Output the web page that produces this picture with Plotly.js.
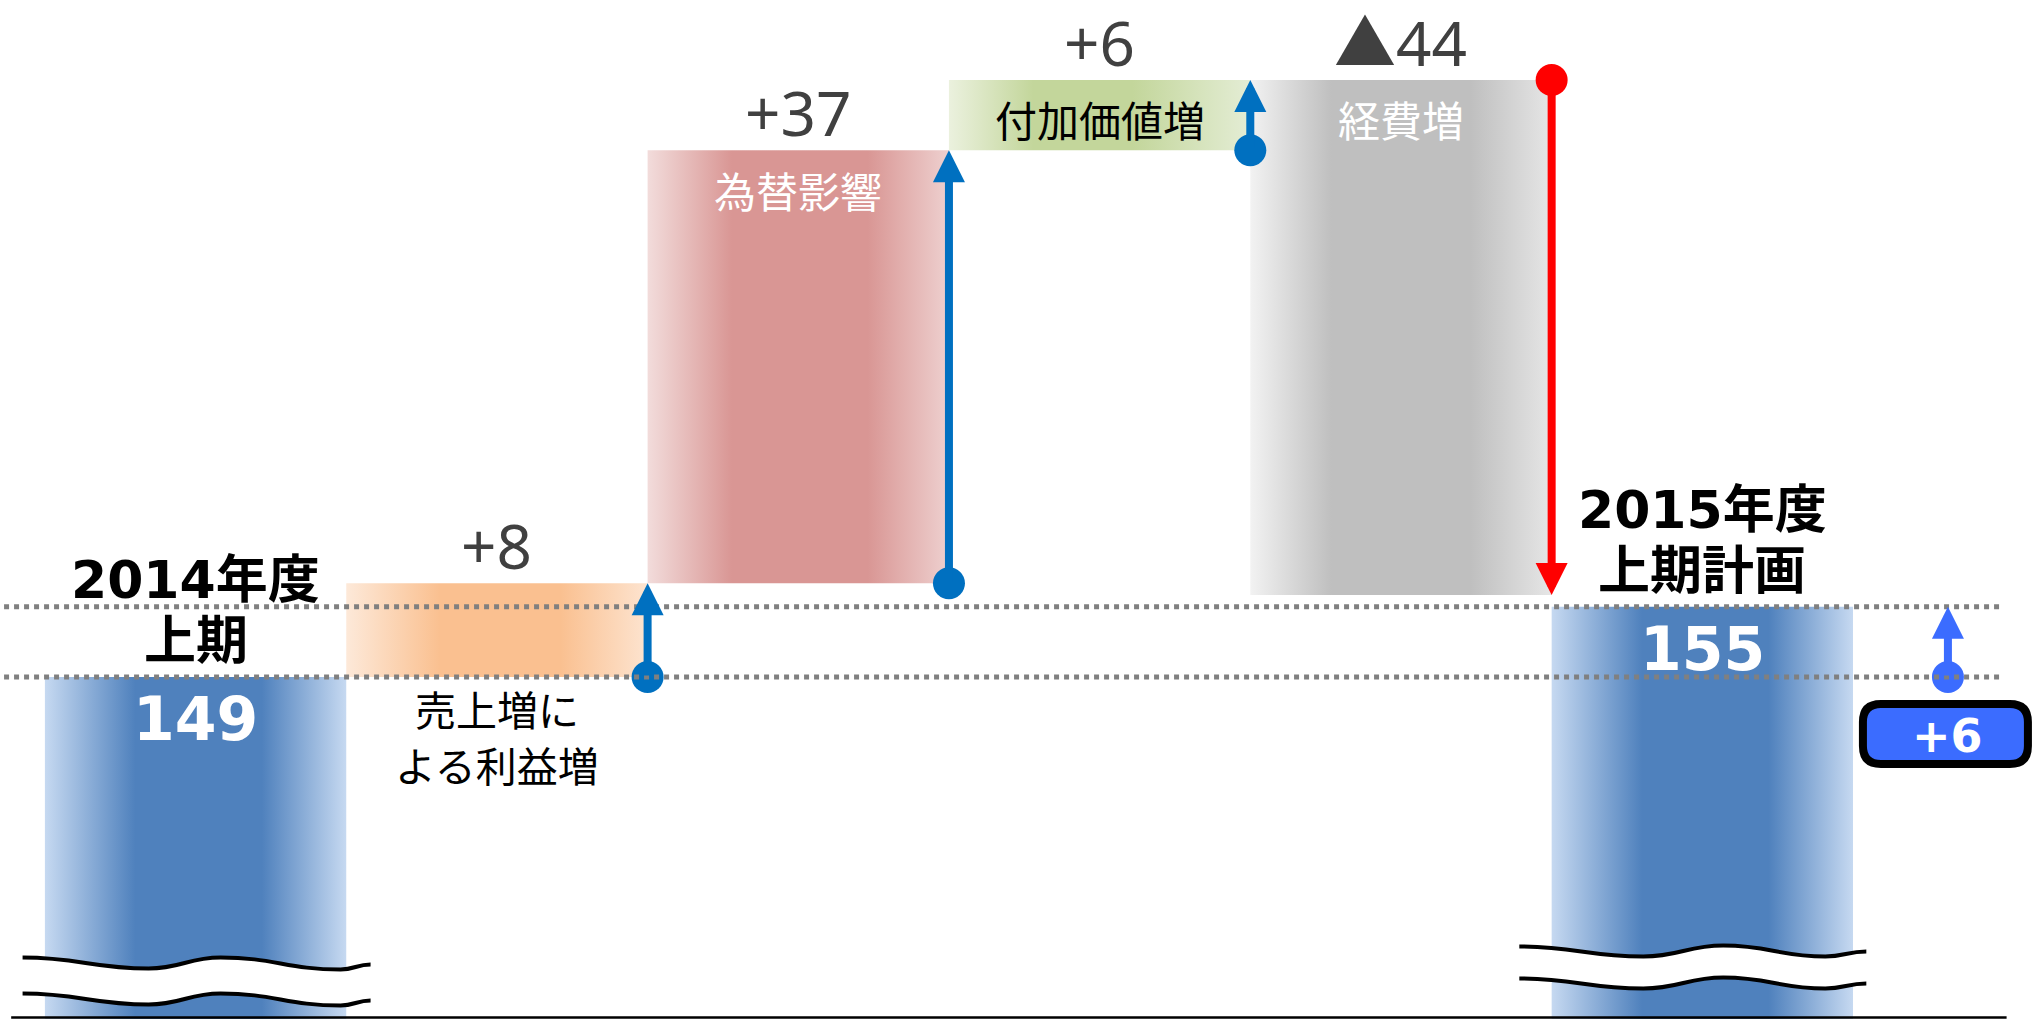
<!DOCTYPE html>
<html>
<head>
<meta charset="utf-8">
<script src="https://cdn.plot.ly/plotly-3.0.1.min.js"></script>
<style>
  html, body { margin: 0; padding: 0; background: #ffffff; }
  #chart { width: 2032px; height: 1019px; }
</style>
</head>
<body>
<div id="chart"></div>
<script>
// ---------------- data ----------------
const categories = ['2014年度上期', '売上増による利益増', '為替影響', '付加価値増', '経費増', '2015年度上期計画'];
const nameLines = [['2014年度', '上期'], ['売上増に', 'よる利益増'], ['為替影響'], ['付加価値増'], ['経費増'], ['2015年度', '上期計画']];
const startValue = 149;
const deltas = [8, 37, 6, -44];
const deltaLabels = ['+8', '+37', '+6', '▲44'];
const endValue = 155;
const totalChangeLabel = '+6';

// ---------------- styling ----------------
const W = 2032, H = 1019;
const xRange = [-0.649, 6.094];
const yRange = [119.78, 206.83];
const changeX = 5.815;              // horizontal slot of the overall-change marker

const gradients = [
  [[0, '#C6D9F1'], [0.3, '#4F81BD'], [0.72, '#4F81BD'], [1, '#C6D9F1']],
  [[0, '#FDE9D9'], [0.31, '#FAC090'], [0.71, '#FAC090'], [1, '#FDE4D0']],
  [[0, '#F2DCDB'], [0.28, '#D99694'], [0.73, '#D99694'], [1, '#EED0CF']],
  [[0, '#EBF1DE'], [0.28, '#C3D69B'], [0.61, '#C3D69B'], [1, '#E4EDD5']],
  [[0, '#F2F2F2'], [0.27, '#BFBFBF'], [0.73, '#BFBFBF'], [1, '#E6E6E6']],
  [[0, '#C6D9F1'], [0.3, '#4F81BD'], [0.72, '#4F81BD'], [1, '#C6D9F1']]
];
const nameColors = ['#000000', '#000000', '#FFFFFF', '#000000', '#FFFFFF', '#000000'];
const upColor = '#0070C0', downColor = '#FF0000', totalColor = '#3B6CFF';

const BOLD = 'DejaVu Sans, Noto Sans CJK JP, sans-serif';
const JP = 'Noto Sans CJK JP, sans-serif';
const NUM = 'Noto Sans, Noto Sans CJK JP, sans-serif';

// ---------------- geometry from data ----------------
const floor = yRange[0];
const segs = [];
segs.push({lo: floor, hi: startValue, from: floor, to: startValue});
let run = startValue;
deltas.forEach(d => {
  const from = run, to = run + d;
  segs.push({lo: Math.min(from, to), hi: Math.max(from, to), from, to});
  run = to;
});
segs.push({lo: floor, hi: endValue, from: floor, to: endValue});

const traces = [];
segs.forEach((s, i) => {
  const l = i - 0.5, r = i + 0.5;
  traces.push({
    type: 'scatter', mode: 'lines',
    x: [l, r, r, l, l], y: [s.lo, s.lo, s.hi, s.hi, s.lo],
    fill: 'toself',
    fillgradient: {type: 'horizontal', colorscale: gradients[i]},
    line: {width: 0, color: 'rgba(0,0,0,0)'},
    hoverinfo: 'skip', name: categories[i]
  });
});

// arrows: at right edge of each delta bar, plus the overall change marker
const arrows = [];
segs.forEach((s, i) => {
  if (i === 0 || i === segs.length - 1) return;
  arrows.push({x: i + 0.5, from: s.from, to: s.to, color: s.to > s.from ? upColor : downColor});
});
arrows.push({x: changeX, from: startValue, to: endValue, color: totalColor});

traces.push({
  type: 'scatter', mode: 'markers',
  x: arrows.map(a => a.x), y: arrows.map(a => a.from),
  marker: {size: 32, color: arrows.map(a => a.color), line: {width: 0}},
  hoverinfo: 'skip'
});

const annotations = [];
arrows.forEach(a => {
  annotations.push({
    x: a.x, y: a.to, ax: a.x, ay: a.from,
    xref: 'x', yref: 'y', axref: 'x', ayref: 'y',
    showarrow: true, arrowhead: 2, arrowsize: 0.8, arrowwidth: 8,
    arrowcolor: a.color, text: '', standoff: 0
  });
});

function label(x, y, text, shift, font, color, size, weight) {
  annotations.push({
    x: x, y: y, xref: 'x', yref: 'y', text: text, showarrow: false,
    yshift: shift, xanchor: 'center', yanchor: 'middle',
    font: {family: font, size: size, color: color, weight: weight || 400}
  });
}

// total bars: titles above, values inside
[[0, startValue], [segs.length - 1, endValue]].forEach(([i, v]) => {
  label(i, v, nameLines[i][0], 97, BOLD, '#000000', 52, 700);
  label(i, v, nameLines[i][1], 36, BOLD, '#000000', 52, 700);
  label(i, v, String(v), -42, BOLD, '#FFFFFF', 60, 700);
});

// delta bars
deltas.forEach((d, k) => {
  const i = k + 1, s = segs[i];
  label(i, s.hi, deltaLabels[k], 38, NUM, '#404040', 62, 400);
  const lines = nameLines[i];
  if (lines.length === 1) {
    label(i, s.hi, lines[0], -39, JP, nameColors[i], 42, 400);
  } else {
    label(i, s.lo, lines[0], -31, JP, nameColors[i], 41, 400);
    label(i, s.lo, lines[1], -87, JP, nameColors[i], 41, 400);
  }
});

// overall change badge text
label(changeX, startValue, totalChangeLabel, -59, BOLD, '#FFFFFF', 46, 700);

// ---------------- shapes ----------------
const shapes = [];
[startValue, endValue].forEach(v => {
  shapes.push({type: 'line', xref: 'paper', yref: 'y', x0: 0.002, x1: 0.985, y0: v, y1: v,
    line: {color: '#808080', width: 5, dash: 'dot'}, layer: 'above'});
});
// baseline
shapes.push({type: 'line', xref: 'paper', yref: 'paper', x0: 0.0055, x1: 0.9875, y0: 0.0015, y1: 0.0015,
  line: {color: '#000000', width: 2.5}, layer: 'above'});

// axis break marks on the two total bars
function curve(pts, dy, startCmd) {
  let p = startCmd + pts[0][0] + ',' + (pts[0][1] + dy);
  for (let k = 1; k < pts.length; k++) {
    const [x0, y0] = pts[k - 1], [x1, y1] = pts[k];
    const cx = (x1 - x0) * 0.45;
    p += ' C' + (x0 + cx) + ',' + (y0 + dy) + ' ' + (x1 - cx) + ',' + (y1 + dy) + ' ' + x1 + ',' + (y1 + dy);
  }
  return p;
}
const breaks = [
  {i: 0, ya: 1 - 962.5 / H, gap: 36, pts: [[-173, 5], [-47, -6], [25, 5], [145, -7], [175, -2]]},
  {i: segs.length - 1, ya: 1 - 951.5 / H, gap: 32, pts: [[-183, 5], [-59, -5], [21, 6], [123, -5], [164, 0]]}
];
breaks.forEach(b => {
  const base = {type: 'path', xref: 'x', yref: 'paper', xsizemode: 'pixel', ysizemode: 'pixel',
    xanchor: b.i, yanchor: b.ya, layer: 'above'};
  const back = b.pts.slice().reverse();
  shapes.push(Object.assign({}, base, {path: curve(b.pts, 0, 'M') + ' ' + curve(back, -b.gap, 'L') + ' Z',
    fillcolor: '#FFFFFF', line: {width: 0}}));
  shapes.push(Object.assign({}, base, {path: curve(b.pts, 0, 'M'), line: {color: '#000000', width: 4}}));
  shapes.push(Object.assign({}, base, {path: curve(b.pts, -b.gap, 'M'), line: {color: '#000000', width: 4}}));
});

// badge for overall change
(function () {
  const L = -85, R = 80, T = -27, B = -87, rr = 18;
  const p = 'M' + (L + rr) + ',' + T + ' L' + (R - rr) + ',' + T + ' Q' + R + ',' + T + ' ' + R + ',' + (T - rr) +
    ' L' + R + ',' + (B + rr) + ' Q' + R + ',' + B + ' ' + (R - rr) + ',' + B +
    ' L' + (L + rr) + ',' + B + ' Q' + L + ',' + B + ' ' + L + ',' + (B + rr) +
    ' L' + L + ',' + (T - rr) + ' Q' + L + ',' + T + ' ' + (L + rr) + ',' + T + ' Z';
  shapes.push({type: 'path', xref: 'x', yref: 'y', xsizemode: 'pixel', ysizemode: 'pixel',
    xanchor: changeX, yanchor: startValue, path: p, fillcolor: totalColor,
    line: {color: '#000000', width: 8}, layer: 'above'});
})();

const layout = {
  width: W, height: H,
  margin: {l: 0, r: 0, t: 0, b: 0, pad: 0},
  paper_bgcolor: '#FFFFFF', plot_bgcolor: '#FFFFFF',
  showlegend: false,
  xaxis: {range: xRange, visible: false, fixedrange: true},
  yaxis: {range: yRange, visible: false, fixedrange: true},
  shapes: shapes,
  annotations: annotations
};

Plotly.newPlot('chart', traces, layout, {displayModeBar: false, staticPlot: true});
</script>
</body>
</html>
